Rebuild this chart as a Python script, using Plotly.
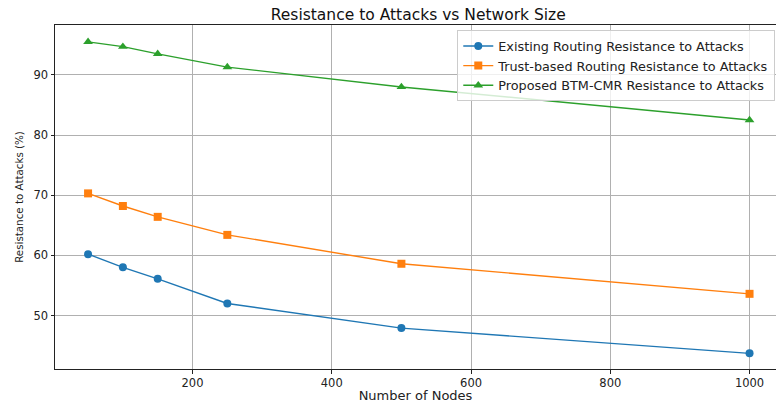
import plotly.graph_objects as go

nodes = [50, 100, 150, 250, 500, 1000]
existing = [60.2, 58.0, 56.1, 52.0, 47.9, 43.7]
trust = [70.3, 68.2, 66.4, 63.4, 58.6, 53.6]
proposed = [95.5, 94.7, 93.5, 91.3, 88.0, 82.5]

names = ["Existing Routing Resistance to Attacks",
         "Trust-based Routing Resistance to Attacks",
         "Proposed BTM-CMR Resistance to Attacks"]
colors = ["#1f77b4", "#ff7f0e", "#2ca02c"]
symbols = ["circle", "square", "triangle-up"]
sizes = [8, 8, 8.5]

fig = go.Figure()
for ys, n, c, s, sz in zip([existing, trust, proposed], names, colors, symbols, sizes):
    fig.add_trace(go.Scatter(x=nodes, y=ys, name=n, mode="lines+markers",
                             line=dict(color=c, width=1.4),
                             marker=dict(symbol=s, size=sz, color=c)))

font = "DejaVu Sans, sans-serif"
fig.update_layout(
    width=776, height=403,
    margin=dict(l=55, r=0, t=25, b=34),
    paper_bgcolor="white", plot_bgcolor="white",
    font=dict(family=font, size=12, color="#222"),
    title=dict(text="Resistance to Attacks vs Network Size", x=0.539, xanchor="center",
               y=0.963, yanchor="middle", font=dict(size=15.5, color="#111")),
    legend=dict(x=0.999, xanchor="right", y=0.985, yanchor="top",
                bordercolor="#cccccc", borderwidth=1, bgcolor="rgba(255,255,255,0.8)",
                font=dict(size=12.8), tracegroupgap=0, itemsizing="trace"),
    showlegend=True,
)
fig.update_xaxes(range=[2.5, 1038], tickvals=[200, 400, 600, 800, 1000],
                 showgrid=True, gridcolor="#b0b0b0", gridwidth=0.8,
                 showline=True, linecolor="#222", linewidth=1, mirror=True,
                 ticks="outside", ticklen=3.5, tickcolor="#222", zeroline=False,
                 automargin=False, tickfont=dict(size=11.5),
                 title=dict(text="Number of Nodes", font=dict(size=13), standoff=3))
fig.update_yaxes(range=[41.1, 98.3], tickvals=[50, 60, 70, 80, 90],
                 showgrid=True, gridcolor="#b0b0b0", gridwidth=0.8,
                 showline=True, linecolor="#222", linewidth=1, mirror=True,
                 ticks="outside", ticklen=3.5, tickcolor="#222", zeroline=False,
                 automargin=False, tickfont=dict(size=11.5),
                 title=dict(text="Resistance to Attacks (%)", font=dict(size=10.3), standoff=7))

fig.write_html("out.html", config={"displayModeBar": False},
               post_script="document.body.style.margin='0';document.body.style.overflow='hidden';")
